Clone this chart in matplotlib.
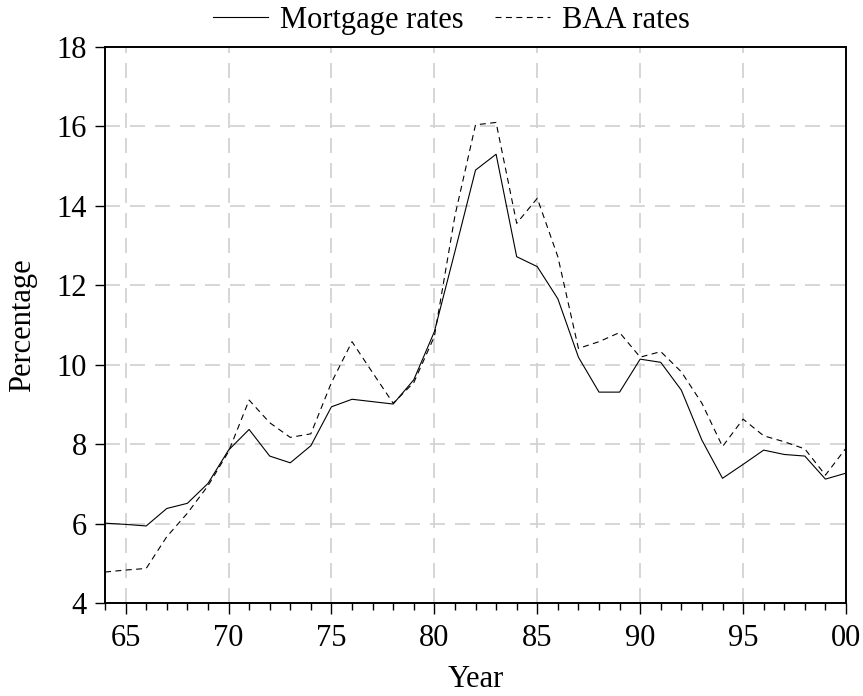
import matplotlib
matplotlib.use("Agg")
import matplotlib.pyplot as plt
from matplotlib.ticker import MultipleLocator, FuncFormatter

plt.rcParams['font.family'] = ['Liberation Serif', 'DejaVu Serif']
plt.rcParams['lines.scale_dashes'] = False

years = list(range(64, 101))  # 1964 .. 2000
mortgage = [6.01, 5.98, 5.94, 6.38, 6.51, 7.01, 7.85, 8.37, 7.70, 7.53,
            7.96, 8.94, 9.13, 9.07, 9.01, 9.62, 10.83, 12.85, 14.90, 15.30,
            12.72, 12.47, 11.66, 10.19, 9.31, 9.31, 10.14, 10.06, 9.36, 8.10,
            7.14, 7.49, 7.85, 7.74, 7.70, 7.12, 7.27]
baa = [4.78, 4.83, 4.87, 5.67, 6.26, 6.95, 7.81, 9.11, 8.54, 8.17,
       8.26, 9.55, 10.58, 9.80, 9.03, 9.55, 10.71, 13.75, 16.04, 16.10,
       13.56, 14.19, 12.72, 10.41, 10.58, 10.81, 10.19, 10.33, 9.82, 9.03,
       7.94, 8.63, 8.21, 8.06, 7.88, 7.22, 7.90]

fig = plt.figure(figsize=(8.63, 6.96), dpi=100)
ax = fig.add_axes([0.1217, 0.1336, 0.8586, 0.7989])

ax.grid(True, which='major', color='#d0d0d0', linewidth=1.2, dashes=(10.8, 7.2))
ax.set_axisbelow(True)

ax.plot(years, mortgage, color='black', linewidth=0.8, label='Mortgage rates')
ax.plot(years, baa, color='black', linewidth=0.8, dashes=(4.3, 3.2), label='BAA rates')

ax.set_xlim(64, 100)
ax.set_ylim(4, 18)
ax.xaxis.set_major_locator(MultipleLocator(5))
ax.xaxis.set_minor_locator(MultipleLocator(1))
ax.yaxis.set_major_locator(MultipleLocator(2))
ax.xaxis.set_major_formatter(FuncFormatter(lambda v, p: "%02d" % (int(round(v)) % 100)))

ax.tick_params(axis='both', which='major', labelsize=22, direction='out',
               length=7, width=1.0, pad=6)
ax.tick_params(axis='x', which='major', length=8, pad=7)
ax.tick_params(axis='x', which='minor', direction='out', length=5, width=1.0)
for s in ax.spines.values():
    s.set_linewidth(1.4)

ax.set_xlabel('Year', fontsize=22, labelpad=9)
ax.set_ylabel('Percentage', fontsize=22, labelpad=14)

fig.legend(loc='center', bbox_to_anchor=(0.523, 0.971), ncol=2, frameon=False,
           fontsize=22, handlelength=1.8, handletextpad=0.4, columnspacing=1.0)

fig.savefig('out.png', dpi=100)
